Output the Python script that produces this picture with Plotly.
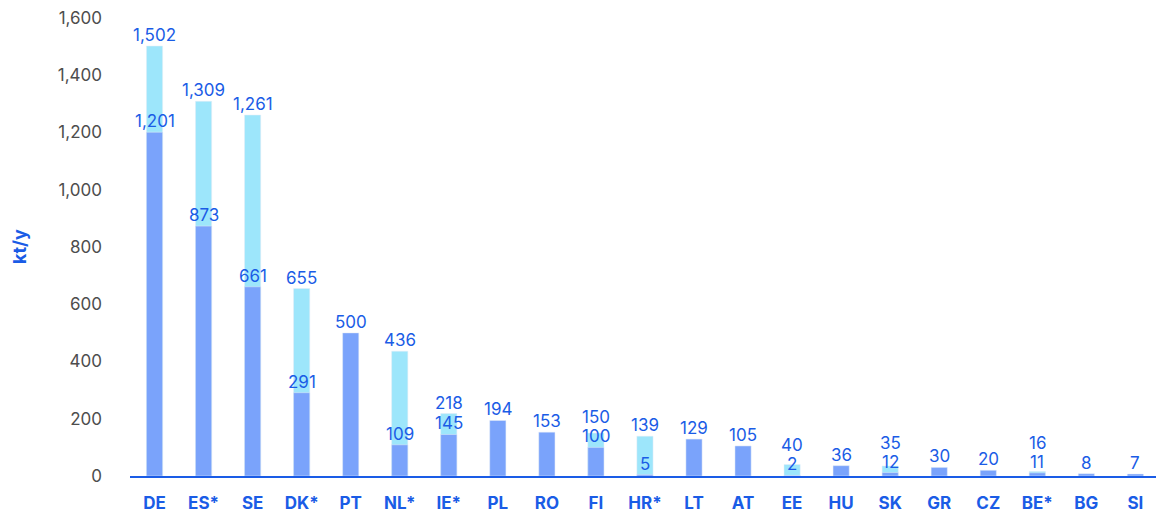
import plotly.graph_objects as go

# Capacity by country (kt/y)
countries = ["DE", "ES*", "SE", "DK*", "PT", "NL*", "IE*", "PL", "RO", "FI", "HR*",
             "LT", "AT", "EE", "HU", "SK", "GR", "CZ", "BE*", "BG", "SI"]
total = [1502, 1309, 1261, 655, None, 436, 218, None, None, 150, 139,
         None, None, 40, None, 35, None, None, 16, None, None]
base = [1201, 873, 661, 291, 500, 109, 145, 194, 153, 100, 5,
        129, 105, 2, 36, 12, 30, 20, 11, 8, 7]

BLUE = "#1a5ce6"
LIGHT = "#9de6fb"
DARK = "#7aa3fb"
GREY = "#4d4d4d"
FONT = "Inter"

Y_MAX = 1600
PLOT_H = 514 - 18 - 38
PX_PER_UNIT = PLOT_H / Y_MAX
LABEL_GAP = 19  # minimum vertical spacing (px) between stacked value labels

fig = go.Figure()
fig.add_trace(go.Bar(x=countries, y=total, marker_color=LIGHT, width=0.33,
                     hoverinfo="x+y"))
fig.add_trace(go.Bar(x=countries, y=base, marker_color=DARK, width=0.33,
                     hoverinfo="x+y"))

label_font = dict(family=FONT, size=17, color=BLUE)
annotations = []
for c, t, b in zip(countries, total, base):
    dark_shift = -1
    annotations.append(dict(x=c, y=b, text=f"{b:,}", showarrow=False,
                            xanchor="center", yanchor="bottom",
                            yshift=dark_shift, font=label_font))
    if t is not None:
        # lift the upper label clear of the lower one where the bars are short
        needed = b * PX_PER_UNIT + dark_shift + LABEL_GAP - t * PX_PER_UNIT
        annotations.append(dict(x=c, y=t, text=f"{t:,}", showarrow=False,
                                xanchor="center", yanchor="bottom",
                                yshift=max(-1, needed), font=label_font))

annotations.append(dict(
    text="<b>kt/y</b>", textangle=-90,
    xref="paper", yref="paper", x=(19 - 130) / 1026, y=0.5,
    xanchor="center", yanchor="middle", showarrow=False,
    font=dict(family=FONT, size=18, color=BLUE),
))

fig.update_layout(
    width=1156, height=514,
    margin=dict(l=130, r=0, t=18, b=38),
    barmode="overlay",
    showlegend=False,
    plot_bgcolor="white", paper_bgcolor="white",
    font=dict(family=FONT, size=17, color=GREY),
    xaxis=dict(
        range=[-0.5, 20.42],
        showline=True, linecolor=BLUE, linewidth=1.5,
        showgrid=False, ticks="",
        tickfont=dict(family=FONT, size=17, color=BLUE, weight="bold"),
        ticklabelstandoff=11,
    ),
    yaxis=dict(
        range=[0, Y_MAX], dtick=200, tickformat=",",
        showgrid=False, zeroline=False, showline=False, ticks="",
        tickfont=dict(family=FONT, size=17, color=GREY),
        ticklabelstandoff=27,
    ),
    annotations=annotations,
)

fig.write_html("out.html")
